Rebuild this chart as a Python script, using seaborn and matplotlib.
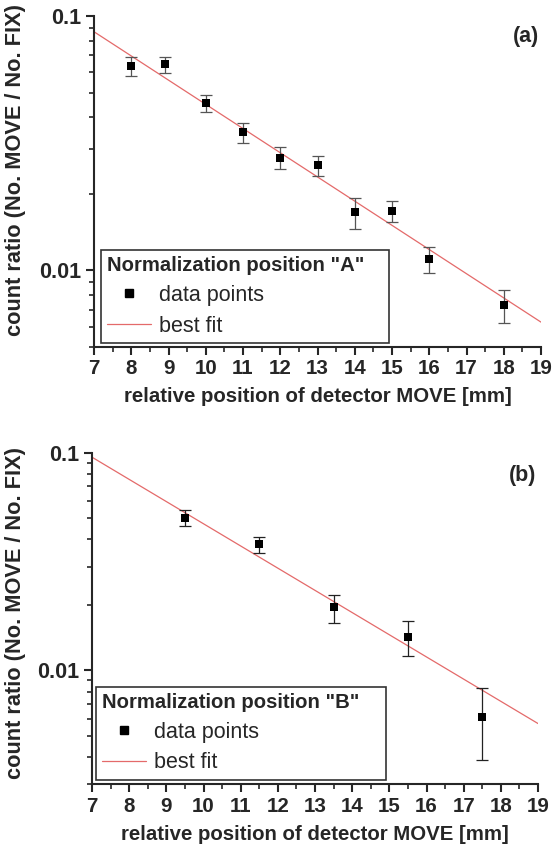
import numpy as np
import pandas as pd
import seaborn as sns
import matplotlib.pyplot as plt
from matplotlib.lines import Line2D
from matplotlib.ticker import FuncFormatter, NullFormatter, MultipleLocator, LogLocator

# panel (a): normalization position "A"
pos_a = [8, 8.9, 10, 11, 12, 13, 14, 15, 16, 18]
ratio_a = [0.0636, 0.0645, 0.0456, 0.0349, 0.0277, 0.0259, 0.0170, 0.0171, 0.0111, 0.0073]
err_lo_a = [0.0056, 0.0050, 0.0038, 0.0032, 0.0027, 0.0024, 0.0024, 0.0016, 0.0013, 0.0011]
err_hi_a = [0.0052, 0.0045, 0.0034, 0.0031, 0.0029, 0.0023, 0.0023, 0.0016, 0.0013, 0.0011]
fit_x_a = [7, 19]
fit_y_a = [0.0867, 0.00626]

# panel (b): normalization position "B"
pos_b = [9.5, 11.5, 13.5, 15.5, 17.5]
ratio_b = [0.0503, 0.0380, 0.0195, 0.0142, 0.0061]
err_lo_b = [0.0041, 0.0034, 0.0029, 0.0026, 0.0022]
err_hi_b = [0.0043, 0.0030, 0.0028, 0.0026, 0.0022]
fit_x_b = [7, 19]
fit_y_b = [0.0952, 0.00571]

sns.set_style("ticks")
plt.rcParams['font.family'] = ['Liberation Sans', 'DejaVu Sans']
plt.rcParams['axes.linewidth'] = 1.5

fig = plt.figure(figsize=(5.55, 8.5), dpi=100)
ax1 = fig.add_axes([0.1694, 0.5918, 0.8054, 0.3894])
ax2 = fig.add_axes([0.1658, 0.0771, 0.8036, 0.3905])

fit_color = '#e46a6a'


def draw_panel(ax, x, y, lo, hi, fx, fy, ylim, errcolor, letter, letter_y, title,
               ylab_xy, xlab_y, leg_anchor):
    df = pd.DataFrame({'x': x, 'y': y})
    fit = pd.DataFrame({'x': fx, 'y': fy})
    ax.set_yscale('log')
    sns.lineplot(data=fit, x='x', y='y', color=fit_color, lw=0.9, ax=ax, zorder=2)
    ax.errorbar(x, y, yerr=[lo, hi], fmt='none', ecolor=errcolor, elinewidth=0.9,
                capsize=4.5, capthick=0.9, zorder=3)
    sns.scatterplot(data=df, x='x', y='y', marker='s', s=30, color='black',
                    edgecolor='black', linewidth=0, ax=ax, zorder=4)
    ax.set_xlim(7, 19)
    ax.set_ylim(*ylim)
    sns.despine(ax=ax)
    ax.xaxis.set_major_locator(MultipleLocator(1))
    ax.xaxis.set_minor_locator(MultipleLocator(0.5))
    ax.yaxis.set_major_locator(LogLocator(base=10))
    ax.yaxis.set_minor_locator(LogLocator(base=10, subs=np.arange(2, 10)))
    ax.yaxis.set_major_formatter(FuncFormatter(lambda v, p: f"{v:g}"))
    ax.yaxis.set_minor_formatter(NullFormatter())
    ax.tick_params(which='major', direction='out', length=6, width=1.5, pad=3)
    ax.tick_params(which='minor', direction='out', length=3.5, width=1.2)
    ax.tick_params(axis='x', labelsize=14.8)
    ax.tick_params(axis='y', labelsize=15.5)
    for lab in ax.get_xticklabels() + ax.get_yticklabels():
        lab.set_fontweight('bold')
    ax.set_xlabel('relative position of detector MOVE [mm]', fontsize=14.7, fontweight='bold')
    ax.set_ylabel('count ratio (No. MOVE / No. FIX)', fontsize=15.7, fontweight='bold')
    ax.xaxis.set_label_coords(0.5, xlab_y)
    ax.yaxis.set_label_coords(*ylab_xy)
    ax.text(0.9955, letter_y, letter, transform=ax.transAxes, ha='right', va='center',
            fontsize=15.5, fontweight='bold')
    handles = [Line2D([], [], ls='none', marker='s', ms=5.5, color='black'),
               Line2D([], [], color=fit_color, lw=0.9)]
    leg = ax.legend(handles, ['data points', 'best fit'], title=title, loc='lower left',
                    bbox_to_anchor=leg_anchor, mode='expand', borderaxespad=0,
                    fontsize=15.5, title_fontproperties={'weight': 'bold', 'size': 14.6},
                    alignment='left', frameon=True, fancybox=False, framealpha=1,
                    edgecolor='#333333', handlelength=2.0, handletextpad=0.4,
                    labelspacing=0.45, borderpad=0.3)
    leg.get_frame().set_linewidth(1.2)


draw_panel(ax1, pos_a, ratio_a, err_lo_a, err_hi_a, fit_x_a, fit_y_a, (0.005, 0.1),
           '#555555', '(a)', 0.937, 'Normalization position "A"', (-0.152, 0.535), -0.121,
           (0.0157, 0.012, 0.644, 0.2))
draw_panel(ax2, pos_b, ratio_b, err_lo_b, err_hi_b, fit_x_b, fit_y_b, (0.003, 0.1),
           '#222222', '(b)', 0.932, 'Normalization position "B"', (-0.147, 0.517), -0.123,
           (0.009, 0.0136, 0.650, 0.2))

fig.savefig('out.png', dpi=100)
